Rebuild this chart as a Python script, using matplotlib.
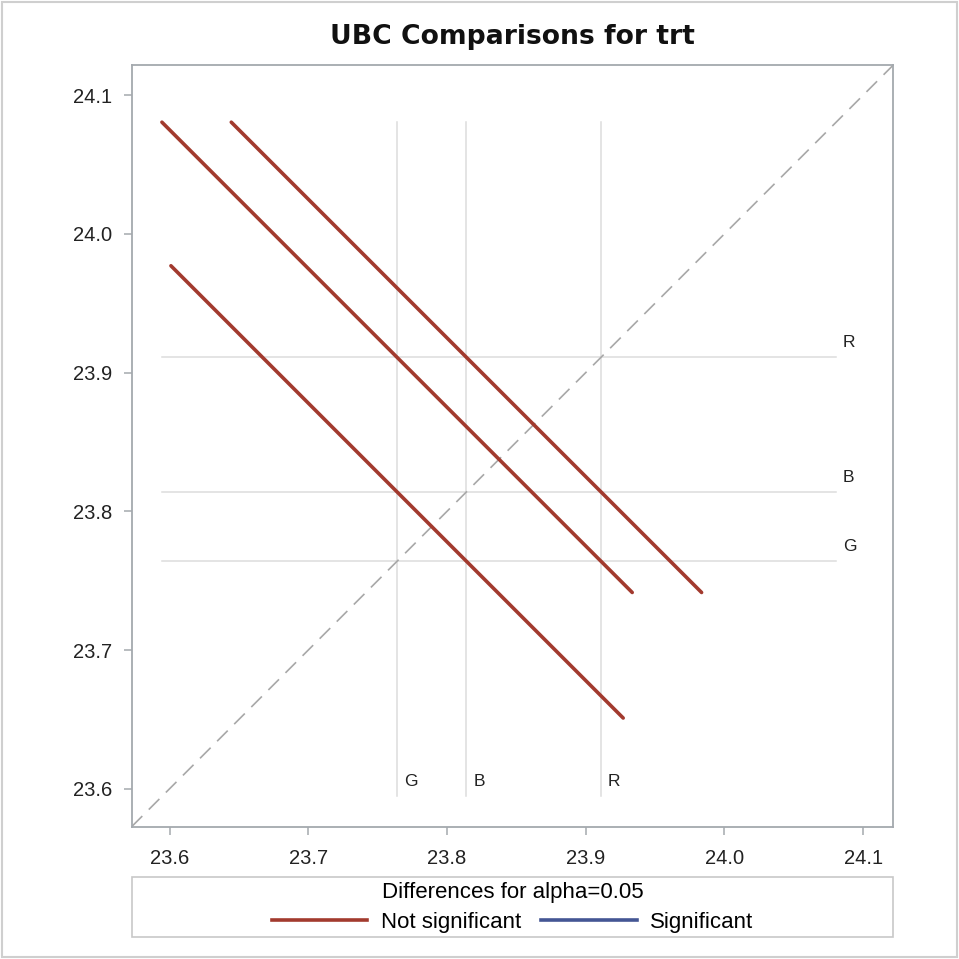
import matplotlib
matplotlib.use("Agg")
import matplotlib.pyplot as plt
from matplotlib.lines import Line2D
from matplotlib.patches import Rectangle
from matplotlib.ticker import FormatStrFormatter

# LS-means of trt levels
levels = ["G", "B", "R"]
lsmeans = [23.764, 23.814, 23.911]

# pairwise differences (first level minus second level) with 95% limits
pair_first = ["G", "B", "G"]
pair_second = ["R", "R", "B"]
diff_lower = [-0.486, -0.436, -0.376]
diff_upper = [0.192, 0.242, 0.276]
significant = [False, False, False]

title = "UBC Comparisons for trt"
legend_title = "Differences for alpha=0.05"
tick_values = [23.6, 23.7, 23.8, 23.9, 24.0, 24.1]

RED = "#A23A2E"
BLUE = "#445694"
FONT = "Liberation Sans"

plt.rcParams["font.family"] = [FONT, "DejaVu Sans"]

fig = plt.figure(figsize=(9.59, 9.59), dpi=100)
ax = fig.add_axes([0.1373, 0.1380, 0.7942, 0.7942])

lo, hi = 23.5727, 24.1217
ax.set_xlim(lo, hi)
ax.set_ylim(lo, hi)

mean_of = dict(zip(levels, lsmeans))

# diffogram segments: slope -1 through (mean_i, mean_j)
segs = []
for a, b, l, u, sig in zip(pair_first, pair_second, diff_lower, diff_upper, significant):
    h = (u - l) / 4.0
    mx, my = mean_of[a], mean_of[b]
    xs = [mx - h, mx + h]
    ys = [my + h, my - h]
    segs.append((xs, ys, sig))

all_coords = [c for xs, ys, _ in segs for c in xs + ys]
ref_lo, ref_hi = min(all_coords), max(all_coords)

ref_col = "#DCDCDC"
for lev, m in zip(levels, lsmeans):
    ax.plot([m, m], [ref_lo, ref_hi], color=ref_col, lw=1.1, zorder=1)
    ax.plot([ref_lo, ref_hi], [m, m], color=ref_col, lw=1.1, zorder=1)
    ax.annotate(lev, xy=(m, ref_lo), xytext=(5, 10.5), textcoords="offset points",
                ha="left", va="center", fontsize=12.5, color="#222222")
    ax.annotate(lev, xy=(ref_hi, m), xytext=(5, 10.5), textcoords="offset points",
                ha="left", va="center", fontsize=12.5, color="#222222")

# identity line
ax.plot([lo, hi], [lo, hi], color="#A8A8A8", lw=1.2, dashes=(9, 5.5), zorder=2)

for xs, ys, sig in segs:
    ax.plot(xs, ys, color=BLUE if sig else RED, lw=2.6, solid_capstyle="round", zorder=3)

ax.set_xticks(tick_values)
ax.set_yticks(tick_values)
ax.xaxis.set_major_formatter(FormatStrFormatter("%.1f"))
ax.yaxis.set_major_formatter(FormatStrFormatter("%.1f"))

spine_col = "#A4A9AE"
for s in ax.spines.values():
    s.set_color(spine_col)
    s.set_linewidth(1.3)
ax.tick_params(direction="out", length=6, width=1.1, color=spine_col,
               labelsize=14.5, labelcolor="#222222")
ax.tick_params(axis="x", pad=10)
ax.tick_params(axis="y", pad=8)

# title
cx = 0.1373 + 0.7942 / 2
fig.text(cx, 1 - 37.5 / 959, title, ha="center", va="center",
         fontsize=19.2, fontweight="bold", family=["DejaVu Sans"], color="#111111")

# legend frame and contents
fig.patches.append(Rectangle((0.1373, 1 - 936.7 / 959), 0.7942, 60 / 959,
                             transform=fig.transFigure, fill=False,
                             edgecolor="#C8C8C8", lw=1.2))
handles = [Line2D([], [], color=RED, lw=2.6), Line2D([], [], color=BLUE, lw=2.6)]
leg = fig.legend(handles, ["Not significant", "Significant"], title=legend_title,
                 ncol=2, loc="center", bbox_to_anchor=(cx, 1 - 907.5 / 959),
                 frameon=False, fontsize=16, title_fontsize=16,
                 handlelength=4.3, handletextpad=0.6, columnspacing=0.9,
                 borderpad=0.0, labelspacing=0.2)
leg._legend_box.sep = 6

# outer border
fig.patches.append(Rectangle((2 / 959, 2 / 959), 955 / 959, 955 / 959,
                             transform=fig.transFigure, fill=False,
                             edgecolor="#CFCFCF", lw=1.5))

fig.savefig("out.png", dpi=100)
